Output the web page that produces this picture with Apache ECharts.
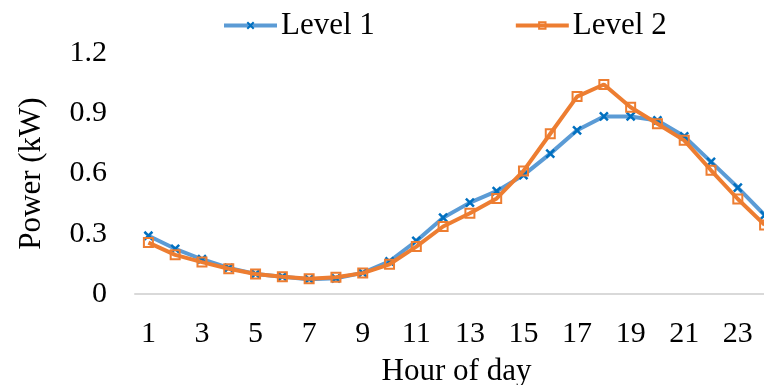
<!DOCTYPE html>
<html>
<head>
<meta charset="utf-8">
<script src="https://cdn.jsdelivr.net/npm/echarts@6/dist/echarts.min.js"></script>
<style>
  html, body { margin: 0; padding: 0; background: #fff; }
  #chart { width: 764px; height: 385px; }
</style>
</head>
<body>
<div id="chart"></div>
<script>
// Hours of the day (category axis)
const hours = ['1','2','3','4','5','6','7','8','9','10','11','12','13','14','15','16','17','18','19','20','21','22','23','24'];

// Average power per hour, kW
const level1 = [0.29, 0.225, 0.173, 0.13, 0.10, 0.086, 0.074, 0.078, 0.105, 0.163, 0.264, 0.38, 0.455, 0.512, 0.592, 0.699, 0.815, 0.884, 0.884, 0.864, 0.785, 0.658, 0.53, 0.393];
const level2 = [0.256, 0.195, 0.159, 0.126, 0.10, 0.086, 0.076, 0.083, 0.104, 0.148, 0.236, 0.336, 0.402, 0.476, 0.613, 0.798, 0.983, 1.043, 0.93, 0.848, 0.765, 0.616, 0.473, 0.344];

// Y-axis range
const yMin = 0, yMax = 1.2, yStep = 0.3;

const font = '"Liberation Serif", "Times New Roman", serif';
const crossPath = 'path://M0,0L10,10M10,0L0,10';

const chart = echarts.init(document.getElementById('chart'), null, { renderer: 'canvas' });
chart.setOption({
  animation: false,
  backgroundColor: '#ffffff',
  textStyle: { fontFamily: font, color: '#000' },
  legend: {
    top: 10,
    left: 222,
    padding: 0,
    itemWidth: 53,
    itemHeight: 8,
    itemGap: 139,
    lineStyle: { width: 4 },
    textStyle: { fontFamily: font, fontSize: 31, color: '#000', padding: [0, 0, 0, -1] },
    data: ['Level 1', 'Level 2']
  },
  grid: { left: 135, top: 53, bottom: 91, width: 643, containLabel: false, outerBoundsMode: 'none' },
  xAxis: {
    type: 'category',
    data: hours,
    boundaryGap: true,
    axisLine: { show: true, lineStyle: { color: '#d9d9d9', width: 2 } },
    axisTick: { show: false },
    axisLabel: { interval: 1, fontFamily: font, fontSize: 30, color: '#000', margin: 25 },
    name: 'Hour of day',
    nameLocation: 'middle',
    nameGap: 62,
    nameTextStyle: { fontFamily: font, fontSize: 31, color: '#000' }
  },
  yAxis: {
    type: 'value',
    min: yMin,
    max: yMax,
    interval: yStep,
    axisLine: { show: false },
    axisTick: { show: false },
    splitLine: { show: false },
    axisLabel: {
      fontFamily: font, fontSize: 30, color: '#000', margin: 28,
      formatter: v => (v === 0 ? '0' : v.toFixed(1))
    },
    name: 'Power (kW)',
    nameLocation: 'middle',
    nameGap: 88,
    nameTextStyle: { fontFamily: font, fontSize: 31, color: '#000' }
  },
  series: [
    {
      name: 'Level 1',
      type: 'line',
      data: level1,
      symbol: crossPath,
      symbolSize: 8,
      showAllSymbol: true,
      lineStyle: { color: '#5b9bd5', width: 4 },
      itemStyle: { color: 'none', borderColor: '#0070c0', borderWidth: 2.5 },
      z: 2
    },
    {
      name: 'Level 2',
      type: 'line',
      data: level2,
      symbol: 'rect',
      symbolSize: 9,
      showAllSymbol: true,
      lineStyle: { color: '#ed7d31', width: 4 },
      itemStyle: { color: 'rgba(255,255,255,0)', borderColor: '#ed7d31', borderWidth: 2 },
      z: 3
    }
  ]
});
</script>
</body>
</html>
